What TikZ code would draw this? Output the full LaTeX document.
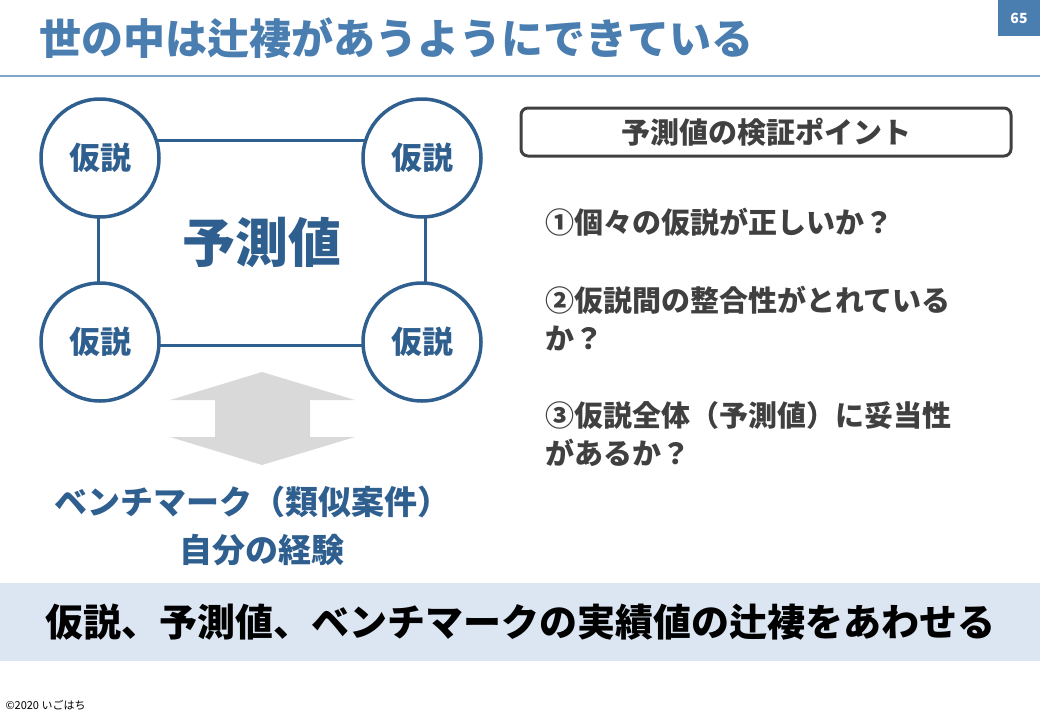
\documentclass[tikz,border=0pt]{standalone}
\usepackage{fontspec}
\setmainfont{Noto Sans CJK JP}
\usetikzlibrary{positioning}
\definecolor{titleblue}{HTML}{4A7EB0}
\definecolor{ringblue}{HTML}{2F5F8F}
\definecolor{textgray}{HTML}{404040}
\definecolor{bandblue}{HTML}{DCE6F2}
\newcommand{\fs}[1]{\fontsize{#1}{#1}\selectfont\bfseries}
\tikzset{
  hyp/.style={circle,draw=ringblue,line width=3.5pt,fill=white,minimum size=118pt,
    text=ringblue,font=\fs{31}},
  link/.style={ringblue,line width=3pt},
  point/.style={anchor=west,text=textgray,font=\fs{29}},
}
\begin{document}
\begin{tikzpicture}[x=1pt,y=-1pt]
  \useasboundingbox (0,0) rectangle (1040,720);
  % title
  \node[anchor=west,text=titleblue,font=\fs{42}] (title) at (36,38) {世の中は辻褄があうようにできている};
  \fill[titleblue] (998,0) rectangle (1040,36);
  \node[text=white,font=\fs{14}] (page) at (1019,18) {65};
  \draw[titleblue!70,line width=1.5pt] (0,76) -- (1040,76);
  % links behind the circles
  \coordinate (c1) at (100,158);
  \coordinate (c2) at (422,158);
  \coordinate (c3) at (100,342);
  \coordinate (c4) at (422,342);
  \draw[link] (100,140) -- (422,140);
  \draw[link] (100,345) -- (422,345);
  \draw[link] (98,158) -- (98,342);
  \draw[link] (425,158) -- (425,342);
  % hypotheses
  \node[hyp] (h1) at (c1) {仮説};
  \node[hyp] (h2) at (c2) {仮説};
  \node[hyp] (h3) at (c3) {仮説};
  \node[hyp] (h4) at (c4) {仮説};
  \node[text=ringblue,font=\fs{53}] (pred) at (262,242) {予測値};
  % double arrow
  \fill[black!15] (262,372) -- (355,400) -- (310,400) -- (310,437) -- (355,437)
    -- (262,465) -- (170,437) -- (215,437) -- (215,400) -- (170,400) -- cycle;
  \node[text=ringblue,font=\fs{33}] (bench) at (252,502) {ベンチマーク（類似案件）};
  \node[text=ringblue,font=\fs{33}] (exp) at (262,550) {自分の経験};
  % check points
  \node[draw=textgray,line width=3pt,rounded corners=7pt,minimum width=490pt,minimum height=48pt,
    text=textgray,font=\fs{29}] (box) at (766,132) {予測値の検証ポイント};
  \node[point] (p1) at (542,222) {①個々の仮説が正しいか？};
  \node[point] (p2) at (542,300) {②仮説間の整合性がとれている};
  \node[point] (p2b) at (542,338) {か？};
  \node[point] (p3) at (542,415) {③仮説全体（予測値）に妥当性};
  \node[point] (p3b) at (542,453) {があるか？};
  % bottom band
  \fill[bandblue] (0,583) rectangle (1040,661);
  \node[text=black,font=\fs{38}] (concl) at (520,622) {仮説、予測値、ベンチマークの実績値の辻褄をあわせる};
  \node[anchor=west,text=black,font=\fontsize{11}{11}\selectfont] (copy) at (2,705) {©2020 いごはち};
\end{tikzpicture}
\end{document}
